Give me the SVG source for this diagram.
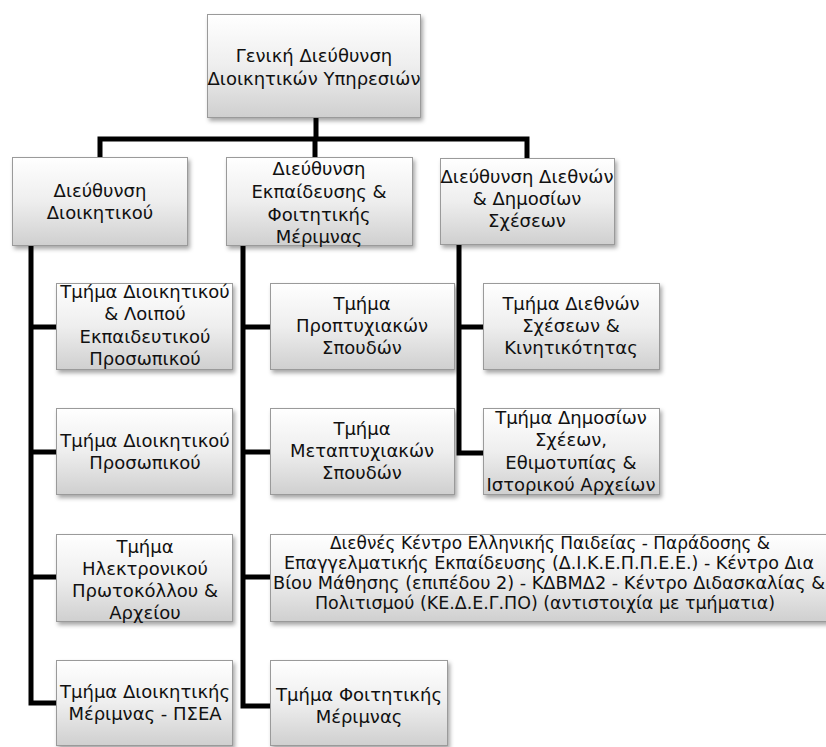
<svg xmlns="http://www.w3.org/2000/svg" width="826" height="747" viewBox="0 0 826 747">
<defs>
<linearGradient id="g" x1="0" y1="0" x2="0" y2="1">
<stop offset="0" stop-color="#ffffff"/>
<stop offset="0.5" stop-color="#eeeeee"/>
<stop offset="1" stop-color="#cfcfcf"/>
</linearGradient>
<filter id="sh" x="-10%" y="-10%" width="125%" height="130%">
<feDropShadow dx="2" dy="3" stdDeviation="2" flood-color="#000" flood-opacity="0.35"/>
</filter>
</defs>
<style>
.box{fill:url(#g);filter:url(#sh);}
.bev{fill:none;stroke:#9a9a9a;stroke-width:1;}
text{font-family:"DejaVu Sans","Noto Sans",sans-serif;font-size:18px;fill:#111;text-anchor:middle;}
.w{font-size:17px;}
.con{fill:none;stroke:#000;stroke-width:5;stroke-linejoin:miter;stroke-linecap:butt;}
</style>
<g id="connectors">
<path class="con" d="M316,118 V139"/>
<path class="con" d="M100,158 V139 H527 V158"/>
<path class="con" d="M315,139 V157"/>
<path class="con" d="M31,246 V703 H56 M31,327 H56 M31,452 H56 M31,577 H56"/>
<path class="con" d="M243,246 V706 H270 M243,327 H270 M243,452 H270 M243,577 H270"/>
<path class="con" d="M459,245 V453 H483 M459,327 H483"/>
</g>
<g id="n0"><rect class="box" x="207" y="14" width="214" height="104"/><rect class="bev" x="207.5" y="14.5" width="213" height="103"/>
<text x="314" y="62">Γενική Διεύθυνση</text><text x="314" y="85">Διοικητικών Υπηρεσιών</text></g>
<g id="n1"><rect class="box" x="12" y="157" width="176" height="89"/><rect class="bev" x="12.5" y="157.5" width="175" height="88"/>
<text x="100" y="197">Διεύθυνση</text><text x="100" y="219">Διοικητικού</text></g>
<g id="n2"><rect class="box" x="226" y="157" width="187" height="89"/><rect class="bev" x="226.5" y="157.5" width="186" height="88"/>
<text x="319" y="175">Διεύθυνση</text><text x="319" y="198">Εκπαίδευσης &amp;</text><text x="319" y="221">Φοιτητικής</text><text x="319" y="243">Μέριμνας</text></g>
<g id="n3"><rect class="box" x="440" y="158" width="175" height="87"/><rect class="bev" x="440.5" y="158.5" width="174" height="86"/>
<text x="527" y="183">Διεύθυνση Διεθνών</text><text x="527" y="205">&amp; Δημοσίων</text><text x="527" y="227">Σχέσεων</text></g>
<g id="n4"><rect class="box" x="56" y="283" width="177" height="87"/><rect class="bev" x="56.5" y="283.5" width="176" height="86"/>
<text x="145" y="298">Τμήμα Διοικητικού</text><text x="145" y="320">&amp; Λοιπού</text><text x="145" y="343">Εκπαιδευτικού</text><text x="145" y="365">Προσωπικού</text></g>
<g id="n5"><rect class="box" x="56" y="408" width="177" height="87"/><rect class="bev" x="56.5" y="408.5" width="176" height="86"/>
<text x="145" y="447">Τμήμα Διοικητικού</text><text x="145" y="469">Προσωπικού</text></g>
<g id="n6"><rect class="box" x="56" y="534" width="177" height="88"/><rect class="bev" x="56.5" y="534.5" width="176" height="87"/>
<text x="145" y="553">Τμήμα</text><text x="145" y="575">Ηλεκτρονικού</text><text x="145" y="597">Πρωτοκόλλου &amp;</text><text x="145" y="619">Αρχείου</text></g>
<g id="n7"><rect class="box" x="56" y="660" width="177" height="86"/><rect class="bev" x="56.5" y="660.5" width="176" height="85"/>
<text x="145" y="698">Τμήμα Διοικητικής</text><text x="145" y="720">Μέριμνας - ΠΣΕΑ</text></g>
<g id="n8"><rect class="box" x="270" y="283" width="185" height="87"/><rect class="bev" x="270.5" y="283.5" width="184" height="86"/>
<text x="362" y="310">Τμήμα</text><text x="362" y="332">Προπτυχιακών</text><text x="362" y="354">Σπουδών</text></g>
<g id="n9"><rect class="box" x="270" y="408" width="185" height="87"/><rect class="bev" x="270.5" y="408.5" width="184" height="86"/>
<text x="362" y="435">Τμήμα</text><text x="362" y="457">Μεταπτυχιακών</text><text x="362" y="479">Σπουδών</text></g>
<g id="n10"><rect class="box" x="270" y="534" width="562" height="88"/><rect class="bev" x="270.5" y="534.5" width="561" height="87"/>
<text class="w" x="550" y="549" textLength="440" lengthAdjust="spacingAndGlyphs">Διεθνές Κέντρο Ελληνικής Παιδείας - Παράδοσης &amp;</text><text class="w" x="549" y="569" textLength="530" lengthAdjust="spacingAndGlyphs">Επαγγελματικής Εκπαίδευσης (Δ.Ι.Κ.Ε.Π.Π.Ε.Ε.) - Κέντρο Δια</text><text class="w" x="549" y="589" textLength="552" lengthAdjust="spacingAndGlyphs">Βίου Μάθησης (επιπέδου 2) - ΚΔΒΜΔ2 - Κέντρο Διδασκαλίας &amp;</text><text class="w" x="545" y="609" textLength="460" lengthAdjust="spacingAndGlyphs">Πολιτισμού (ΚΕ.Δ.Ε.Γ.ΠΟ) (αντιστοιχία με τμήματια)</text></g>
<g id="n11"><rect class="box" x="270" y="660" width="178" height="86"/><rect class="bev" x="270.5" y="660.5" width="177" height="85"/>
<text x="359" y="701">Τμήμα Φοιτητικής</text><text x="359" y="723">Μέριμνας</text></g>
<g id="n12"><rect class="box" x="483" y="283" width="177" height="87"/><rect class="bev" x="483.5" y="283.5" width="176" height="86"/>
<text x="571" y="310">Τμήμα Διεθνών</text><text x="571" y="332">Σχέσεων &amp;</text><text x="571" y="354">Κινητικότητας</text></g>
<g id="n13"><rect class="box" x="483" y="408" width="177" height="87"/><rect class="bev" x="483.5" y="408.5" width="176" height="86"/>
<text x="571" y="424">Τμήμα Δημοσίων</text><text x="571" y="446">Σχέεων,</text><text x="571" y="469">Εθιμοτυπίας &amp;</text><text x="571" y="491">Ιστορικού Αρχείων</text></g>
</svg>
